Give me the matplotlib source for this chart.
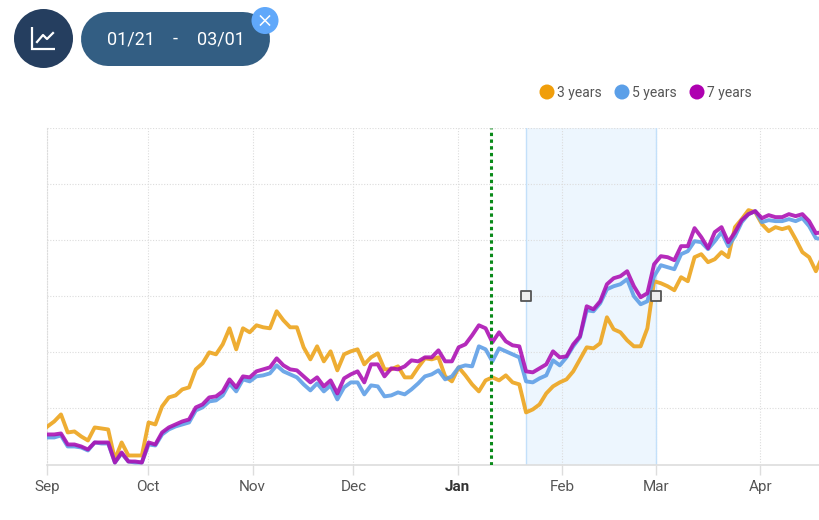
import numpy as np
import matplotlib
matplotlib.use("Agg")
import matplotlib.pyplot as plt
from matplotlib.markers import MarkerStyle
from matplotlib.patches import Circle

plt.rcParams['font.family'] = ['Roboto', 'DejaVu Sans']

# values, about one reading every two days from 1 Sep
years_3 = [38,43,50,32,33,28,24,37,36,35,5,22,9,9,9,42,40,58,67,69,75,77,95,101,112,110,120,136,115,136,
           132,139,137,136,153,144,137,137,117,105,118,103,113,94,110,113,115,100,107,111,95,95,98,87,87,97,106,105,107,88,
           83,97,89,80,73,84,87,84,89,82,80,52,55,60,71,78,82,85,93,105,117,116,121,147,135,132,124,118,118,136,
           183,181,178,174,187,183,207,210,202,205,212,207,237,245,254,252,240,233,237,235,237,225,212,207,193,208]
years_5 = [27,27,29,18,18,17,14,22,21,21,2,11,3,2,2,20,19,30,35,38,40,42,54,57,63,64,69,81,73,85,
           83,88,89,91,99,93,90,87,80,74,81,73,79,65,77,82,82,70,79,78,68,69,72,70,75,81,88,90,94,85,
           88,97,99,98,118,115,103,116,113,110,107,83,82,86,89,104,99,107,118,127,154,153,161,175,178,180,185,168,160,163,
           188,199,197,195,210,213,223,222,215,223,232,218,228,242,250,253,242,244,243,243,245,243,246,238,226,225]
years_7 = [30,30,31,20,20,18,15,22,22,22,2,12,3,3,2,22,20,32,37,40,43,45,57,60,67,68,73,85,77,88,
           87,93,95,97,106,99,95,94,88,82,87,78,84,71,86,90,93,82,100,100,88,96,95,98,104,103,107,107,114,103,
           103,117,120,129,139,136,122,132,123,119,118,93,92,96,100,113,107,108,120,128,158,155,163,180,186,188,193,178,167,171,
           200,208,207,204,218,218,236,227,216,232,237,222,232,244,250,253,246,249,247,247,250,248,250,243,231,232]

month_days = [0, 30, 61, 91, 122, 153, 181, 212]
month_names = ['Sep', 'Oct', 'Nov', 'Dec', 'Jan', 'Feb', 'Mar', 'Apr']
band_start, band_end = 142.4, 181.1
marker_day = 131.8

days = np.arange(len(years_3)) * 2.005

W, H = 820, 520
fig = plt.figure(figsize=(W / 100, H / 100), dpi=100)
ax = fig.add_axes([47.5 / W, 1 - 464.5 / H, (819 - 47.5) / W, (464.5 - 128) / H])
ax.set_xlim(0, 229.5)
ax.set_ylim(0, 336)

ax.axvspan(band_start, band_end, facecolor='#edf6fe', edgecolor='none', zorder=0)
ax.axvline(band_start, color='#c3e0fa', lw=1.0, zorder=1)
ax.axvline(band_end, color='#c3e0fa', lw=1.0, zorder=1)

ax.set_xticks(month_days)
ax.set_xticklabels(month_names)
ax.set_yticks(range(0, 337, 56))
ax.tick_params(axis='y', length=0, labelleft=False)
ax.tick_params(axis='x', length=7, width=1, color='#dddddd', labelsize=11, labelcolor='#555555', pad=4.5)
ax.grid(True, color='#dcdcdc', lw=0.8, linestyle=(0, (1, 1.5)), zorder=1)
ax.set_axisbelow(True)
for s in ['top', 'right']:
    ax.spines[s].set_visible(False)
ax.spines['left'].set_color('#dcdcdc')
ax.spines['left'].set_linewidth(0.8)
ax.spines['left'].set_linestyle((0, (1, 1.5)))
ax.spines['bottom'].set_color('#dddddd')
ax.spines['bottom'].set_linewidth(1.2)

for lab in ax.get_xticklabels():
    if lab.get_text() == 'Jan':
        lab.set_fontweight('bold')
        lab.set_color('#333333')

ax.plot(days, years_3, color='#eda621', lw=2.8, alpha=0.92, solid_joinstyle='round', zorder=3)
ax.plot(days, years_5, color='#5f9fe6', lw=2.8, alpha=0.9, solid_joinstyle='round', zorder=4)
ax.plot(days, years_7, color='#ab0db2', lw=2.8, alpha=0.88, solid_joinstyle='round', zorder=5)

ax.axvline(marker_day, color='#0a8a1a', lw=2.2, linestyle=(0, (1.1, 1.1)), zorder=6)

handle = MarkerStyle('s', joinstyle='round')
ax.plot([band_start, band_end], [168, 168], linestyle='none', marker=handle, ms=7.5, mfc='#eeeeee',
        mec='#555555', mew=1.3, clip_on=False, zorder=7)

# header and legend sit on a pixel overlay
ui = fig.add_axes([0, 0, 1, 1], facecolor='none')
ui.set_xlim(0, W)
ui.set_ylim(H, 0)
ui.axis('off')

ui.add_patch(Circle((43.5, 38.5), 29.5, color='#253e5f', lw=0))
ui.plot([32, 32, 55], [27, 48.5, 48.5], color='white', lw=1.6, solid_capstyle='butt', solid_joinstyle='miter')
ui.plot([37, 43, 47, 53], [42, 35, 39, 33], color='white', lw=1.6)

# 54 px tall pill, drawn as a thick round-capped line
ui.plot([108.5, 243], [38.5, 38.5], color='#335e83', lw=54 * 0.72, solid_capstyle='round')
ui.text(131, 39, '01/21', color='white', fontsize=13, ha='center', va='center')
ui.text(175.5, 39, '-', color='white', fontsize=13, ha='center', va='center')
ui.text(221, 39, '03/01', color='white', fontsize=13, ha='center', va='center')
ui.add_patch(Circle((265, 20.5), 13.5, color='#60a8fa', lw=0, zorder=5))
ui.plot([260.5, 269.5], [16, 25], color='white', lw=1.1, zorder=6)
ui.plot([260.5, 269.5], [25, 16], color='white', lw=1.1, zorder=6)

legend_names = ['3 years', '5 years', '7 years']
legend_colors = ['#f09e0b', '#5b9fe8', '#ae00b0']
legend_x = [547, 622, 697]
for x, name, col in zip(legend_x, legend_names, legend_colors):
    ui.add_patch(Circle((x, 92), 7.5, color=col, lw=0))
    ui.text(x + 10, 92.7, name, color='#555555', fontsize=10, ha='left', va='center')

fig.savefig('out.png', dpi=100)
